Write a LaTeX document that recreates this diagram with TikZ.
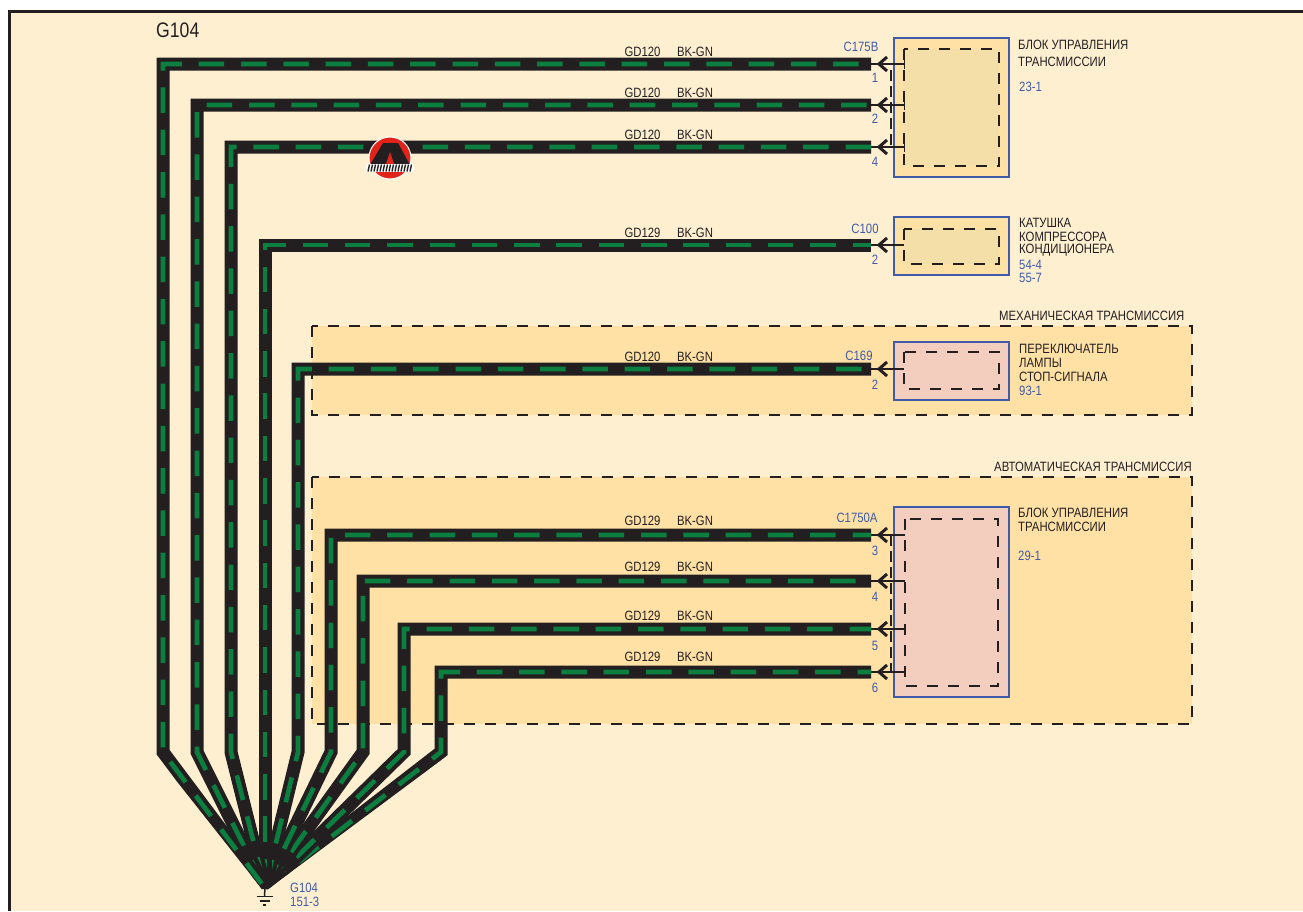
\documentclass[tikz,border=0pt]{standalone}
\usepackage{fontspec}
\setmainfont{Liberation Sans}
\newfontfamily\narrowfont[FakeStretch=0.84]{Liberation Sans}
\definecolor{bgcream}{HTML}{FEEFD0}
\definecolor{zonefill}{HTML}{FFE1A5}
\definecolor{tanfill}{HTML}{F5DFA8}
\definecolor{pinkfill}{HTML}{F3CEBE}
\definecolor{inkdark}{HTML}{231F20}
\definecolor{refblue}{HTML}{3F5BA9}
\definecolor{wiregreen}{HTML}{0B7F3F}
\definecolor{logored}{HTML}{E2231A}
\tikzset{
  x=1pt,y=-1pt,
  txt/.style={inner sep=0pt,yshift=-0.6pt,text=inkdark,font=\narrowfont\fontsize{13.5}{15}\selectfont},
  lft/.style={txt,anchor=west},
  ref/.style={lft,text=refblue},
  pinno/.style={txt,text=refblue},
  connlabel/.style={txt,text=refblue},
  dashbox/.style={draw=inkdark,line width=2pt,dash pattern=on 11pt off 10pt},
  zone/.style={fill=zonefill,dashbox},
  module/.style={draw=refblue,line width=2.2pt},
  thinwire/.style={draw=inkdark,line width=1.8pt},
  chevron/.style={draw=inkdark,line width=3pt},
  busdash/.style={draw=inkdark,line width=2pt,dash pattern=on 11pt off 5pt},
}
\newcommand{\wirerun}[2]{%
  \draw[inkdark,line width=13pt,miter limit=10] #1;
  \draw[wiregreen,line width=4.7pt,miter limit=10,dash pattern=on 25.5pt off 16.8pt,dash phase=#2pt] #1;
}
\newcommand{\pinend}[3]{% name, y, tbar
  \coordinate (#1) at (871,#2);
  \coordinate (#1t) at (#3,#2);
  \draw[thinwire] (#1) -- (#1t);
  \draw[chevron] (887,#2-7) -- (879,#2) -- (887,#2+7);
}
\begin{document}
\begin{tikzpicture}
\useasboundingbox (0,0) rectangle (1303,911);
\fill[white] (0,0) rectangle (1303,911);
\fill[bgcream] (9,11) rectangle (1303,911);
\draw[inkdark,line width=3pt] (9,911) -- (9,11) -- (1303,11);

% zones
\draw[zone] (312,326) rectangle (1192,415);
\draw[zone] (312,477) rectangle (1192,724);

% modules
\draw[module,fill=zonefill] (894,38) rectangle (1009,177);
\fill[tanfill] (904,49) rectangle (999,166);
\draw[dashbox] (904,49) rectangle (999,166);
\draw[module,fill=zonefill] (894,217) rectangle (1009,275);
\fill[tanfill] (904,229) rectangle (999,264);
\draw[dashbox] (904,229) rectangle (999,264);
\draw[module,fill=pinkfill] (894,342) rectangle (1009,400);
\draw[dashbox] (904,352) rectangle (999,389);
\draw[module,fill=pinkfill] (894,507) rectangle (1009,697);
\draw[dashbox] (905,519) rectangle (998,686);

% connector bus dashes
\draw[busdash] (890.5,70) -- (890.5,148);
\draw[busdash] (890.5,535) -- (890.5,672);

% pin ends
\pinend{pa}{64}{904}
\pinend{pb}{105}{904}
\pinend{pc}{147}{904}
\pinend{pd}{245}{904}
\pinend{pe}{369}{904}
\pinend{pf}{535}{905}
\pinend{pg}{581}{905}
\pinend{ph}{629}{905}
\pinend{pi}{672}{905}
\foreach \y in {64,105,147,629,672}{
  \draw[inkdark,line width=1.8pt] (904.5,\y-5) -- (904.5,\y+5);
}

% wires
\coordinate (gnd) at (265,888);
\begin{scope}
\clip (100,20) -- (880,20) -- (880,700) -- (448,755) -- (268,889) -- (262,889) -- (156,755) -- (100,700) -- cycle;
\wirerun{(pi) -- (441,672) -- (441,752) -- (gnd)}{12}
\wirerun{(ph) -- (404,629) -- (404,752) -- (gnd)}{4}
\wirerun{(pg) -- (363,581) -- (363,752) -- (gnd)}{27}
\wirerun{(pf) -- (331,535) -- (331,752) -- (gnd)}{7}
\wirerun{(pe) -- (298,369) -- (298,752) -- (gnd)}{33}
\wirerun{(pd) -- (265,245) -- (gnd)}{7}
\wirerun{(pc) -- (231,147) -- (231,752) -- (gnd)}{0}
\wirerun{(pb) -- (197,105) -- (197,752) -- (gnd)}{38}
\wirerun{(pa) -- (163,64) -- (163,752) -- (gnd)}{30}
\end{scope}

% ground
\coordinate (gb) at (264.5,896);
\draw[inkdark,line width=1.5pt] (gnd) -- (gb);
\draw[inkdark,line width=1.5pt] (256.5,896.5) -- (272.5,896.5);
\draw[inkdark,line width=1.5pt] (259.5,901) -- (269.5,901);
\draw[inkdark,line width=1.5pt] (263,905) -- (266,905);

% logo
\fill[logored,draw=white,line width=1pt] (390,158) circle (21);
\fill[inkdark] (383,143) -- (398,143) -- (410,165) -- (370,165) -- cycle;
\fill[logored] (390,152) -- (394,164) -- (386,164) -- cycle;
\fill[white] (366,164) rectangle (414,172);
\foreach \x in {368,371,...,411}{
  \draw[inkdark,line width=1.4pt] (\x,171.5) -- (\x+1.5,164.5);
}

% texts
\node[lft,font=\narrowfont\fontsize{21}{24}\selectfont] (title) at (156,30) {G104};
\foreach \nm/\ya/\wn in {a/51/GD120,b/92/GD120,c/134/GD120,d/232/GD129,e/356/GD120,f/520/GD129,g/566/GD129,h/615/GD129,i/656/GD129}{
  \node[txt] (w\nm) at (642.5,\ya) {\wn};
  \node[txt] (k\nm) at (695,\ya) {BK-GN};
}
\node[connlabel] (cA) at (861,46) {C175B};
\node[pinno] (na) at (875,77) {1};
\node[pinno] (nb) at (875,118) {2};
\node[pinno] (nc) at (875,161) {4};
\node[connlabel] (cB) at (865,228) {C100};
\node[pinno] (nd) at (875,259) {2};
\node[connlabel] (cC) at (859,355) {C169};
\node[pinno] (ne) at (875,384) {2};
\node[connlabel] (cD) at (857,517) {C1750A};
\node[pinno] (nf) at (875,550) {3};
\node[pinno] (ng) at (875,596) {4};
\node[pinno] (nh) at (875,645) {5};
\node[pinno] (ni) at (875,687) {6};

\node[lft] (ta1) at (1018,44) {БЛОК УПРАВЛЕНИЯ};
\node[lft] (ta2) at (1018,61) {ТРАНСМИССИИ};
\node[ref] (ta3) at (1019,86) {23-1};
\node[lft] (tb1) at (1019,222) {КАТУШКА};
\node[lft] (tb2) at (1019,236) {КОМПРЕССОРА};
\node[lft] (tb3) at (1019,250) {КОНДИЦИОНЕРА};
\node[ref] (tb4) at (1019,264) {54-4};
\node[ref] (tb5) at (1019,277) {55-7};
\node[lft] (tz1) at (999,315) {МЕХАНИЧЕСКАЯ ТРАНСМИССИЯ};
\node[lft] (tc1) at (1019,348) {ПЕРЕКЛЮЧАТЕЛЬ};
\node[lft] (tc2) at (1019,362) {ЛАМПЫ};
\node[lft] (tc3) at (1019,376) {СТОП-СИГНАЛА};
\node[ref] (tc4) at (1019,390) {93-1};
\node[lft] (tz2) at (994,466) {АВТОМАТИЧЕСКАЯ ТРАНСМИССИЯ};
\node[lft] (td1) at (1018,512) {БЛОК УПРАВЛЕНИЯ};
\node[lft] (td2) at (1018,526) {ТРАНСМИССИИ};
\node[ref] (td3) at (1018,555) {29-1};
\node[ref] (tg1) at (290,887) {G104};
\node[ref] (tg2) at (290,901) {151-3};
\end{tikzpicture}
\end{document}
